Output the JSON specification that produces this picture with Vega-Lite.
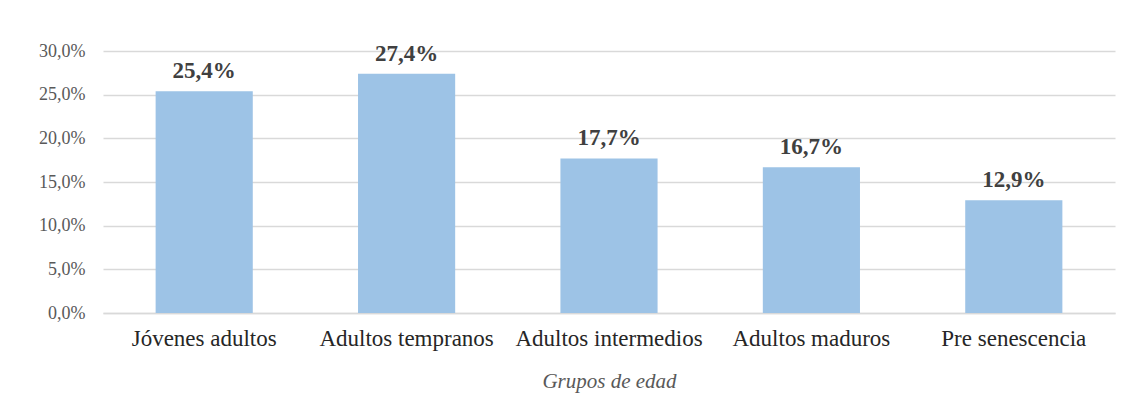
{
  "$schema": "https://vega.github.io/schema/vega-lite/v6.json",
  "autosize": "none",
  "padding": {"left": 103, "top": 51, "right": 10, "bottom": 92},
  "width": 1012,
  "height": 262,
  "background": "white",
  "config": {"view": {"stroke": null}, "font": "Liberation Serif",
    "locale": {"number": {"decimal": ",", "thousands": ".", "grouping": [3], "currency": ["", " €"]}}},
  "data": {"values": [
    {"grupo": "Jóvenes adultos", "valor": 0.254},
    {"grupo": "Adultos tempranos", "valor": 0.274},
    {"grupo": "Adultos intermedios", "valor": 0.177},
    {"grupo": "Adultos maduros", "valor": 0.167},
    {"grupo": "Pre senescencia", "valor": 0.129}
  ]},
  "encoding": {
    "x": {"field": "grupo", "type": "nominal", "sort": null,
      "scale": {"paddingInner": 0.52, "paddingOuter": 0.26},
      "axis": {"title": "Grupos de edad", "titleFont": "Liberation Serif", "titleFontStyle": "italic", "titleFontWeight": "normal", "titleFontSize": 21, "titleColor": "#595959", "titlePadding": 20,
        "labelAngle": 0, "labelFont": "Liberation Serif", "labelFontSize": 23, "labelColor": "#262626", "labelPadding": 14, "labelLimit": 0, "labelOverlap": false, "ticks": false, "domainColor": "#d9d9d9", "domainWidth": 1.5}},
    "y": {"field": "valor", "type": "quantitative",
      "scale": {"domain": [0, 0.3], "nice": false},
      "axis": {"title": null, "values": [0, 0.05, 0.1, 0.15, 0.2, 0.25, 0.3], "format": ".1%", "labelFont": "Liberation Serif", "labelFontSize": 18, "labelColor": "#595959", "labelPadding": 18, "ticks": false, "domain": false, "gridColor": "#d9d9d9", "gridWidth": 1.5}}
  },
  "layer": [
    {"mark": {"type": "bar", "color": "#9DC3E6"}},
    {"mark": {"type": "text", "baseline": "bottom", "dy": -8, "font": "Liberation Serif", "fontWeight": "bold", "fontSize": 23, "color": "#404040"},
      "encoding": {"text": {"field": "valor", "type": "quantitative", "format": ".1%"}}}
  ]
}
